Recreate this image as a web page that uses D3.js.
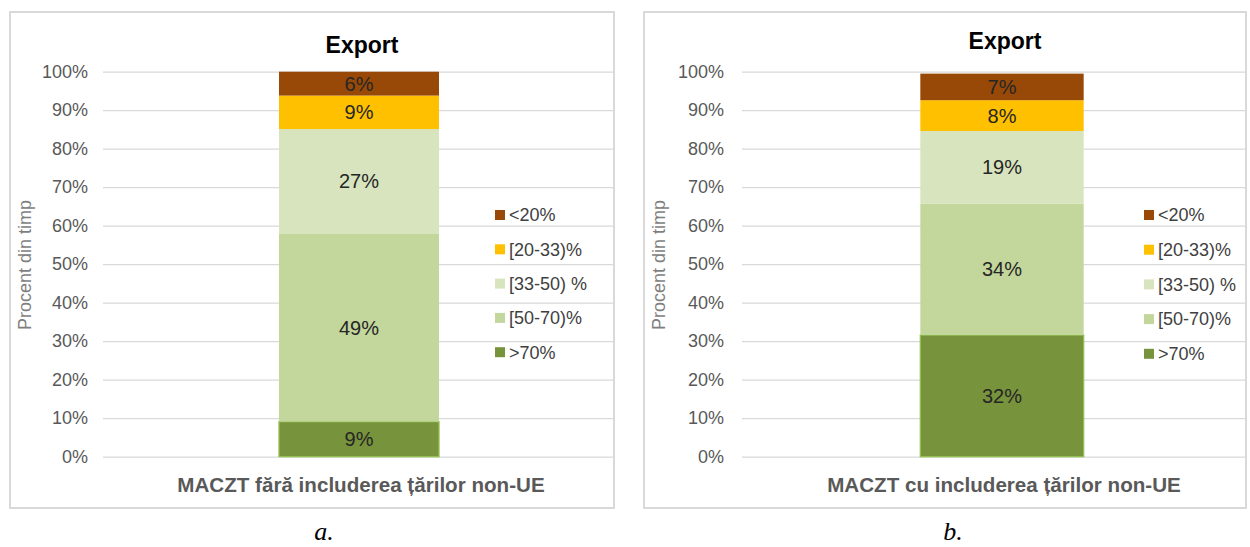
<!DOCTYPE html>
<html>
<head>
<meta charset="utf-8">
<script src="https://cdn.jsdelivr.net/npm/d3@7"></script>
<style>
  body { margin: 0; background: #fff; }
  svg { display: block; font-family: "Liberation Sans", Arial, sans-serif; }
</style>
</head>
<body>
<svg id="chart" width="1250" height="547"></svg>
<script>
// series, bottom of the stack first
var seriesNames = [">70%", "[50-70)%", "[33-50) %", "[20-33)%", "<20%"];
var seriesColors = ["#77933C", "#C3D69B", "#D7E4BD", "#FFC000", "#984807"];
var categories = ["MACZT fără includerea țărilor non-UE", "MACZT cu includerea țărilor non-UE"];
var valuesA = [9.1, 48.9, 27.1, 8.7, 6.2];
var valuesB = [31.6, 34.1, 18.9, 8.0, 6.9];
var yTicks = [0, 10, 20, 30, 40, 50, 60, 70, 80, 90, 100];
var chartTitle = "Export";
var yTitle = "Procent din timp";
var captions = ["a.", "b."];

var svg = d3.select("#chart");

// layout of the two panels (pixels)
var panels = [
  { values: valuesA, category: categories[0], caption: captions[0],
    box: [10, 12, 614, 508], grid: [103, 613], band: [119, 599],
    tickX: 88, titleX: 25, legendX: 495, legendY: 215, legendStep: 34.3,
    headY: 53, captionX: 324 },
  { values: valuesB, category: categories[1], caption: captions[1],
    box: [644, 12, 1246, 508], grid: [742, 1245], band: [757, 1247],
    tickX: 724, titleX: 659, legendX: 1144, legendY: 215, legendStep: 34.7,
    headY: 49, captionX: 953 }
];

var y = d3.scaleLinear()
    .domain([0, 100])
    .range([456.7, 71.7]);

function chartSetup(p) {
  var g = svg.append("g");

  // panel frame
  g.append("rect")
      .attr("x", p.box[0]).attr("y", p.box[1])
      .attr("width", p.box[2] - p.box[0]).attr("height", p.box[3] - p.box[1])
      .attr("fill", "#fff").attr("stroke", "#d9d9d9").attr("stroke-width", 2);

  var x = d3.scaleBand()
      .domain([p.category])
      .range(p.band)
      .padding(0.5);

  // gridlines + tick labels
  var yAxis = d3.axisLeft(y).tickValues(yTicks).tickFormat(d => d + "%")
      .tickSize(-(p.grid[1] - p.grid[0])).tickPadding(15);
  var ax = g.append("g")
      .attr("transform", "translate(" + p.grid[0] + ",0)")
      .call(yAxis);
  ax.select(".domain").remove();
  ax.selectAll("line").attr("stroke", "#d9d9d9").attr("stroke-width", 1.2);
  ax.selectAll("text")
      .attr("x", p.tickX - p.grid[0])
      .attr("fill", "#595959")
      .style("font-size", "18px")
      .style("font-family", "'Liberation Sans', Arial, sans-serif");

  // stacked bar
  var row = {};
  seriesNames.forEach((s, i) => row[s] = p.values[i]);
  var stacked = d3.stack().keys(seriesNames)([row]);

  var seg = g.selectAll(".seg")
      .data(stacked)
    .enter().append("g").attr("class", "seg");

  seg.append("rect")
      .attr("x", x(p.category))
      .attr("width", x.bandwidth())
      .attr("y", d => y(d[0][1]))
      .attr("height", d => y(d[0][0]) - y(d[0][1]))
      .attr("fill", (d, i) => seriesColors[i])
      .attr("stroke", (d, i) => i == 0 ? "#92C050" : "none")
      .attr("stroke-width", 1.3);

  seg.append("text")
      .attr("x", x(p.category) + x.bandwidth() / 2)
      .attr("y", d => (y(d[0][0]) + y(d[0][1])) / 2)
      .attr("dy", "0.35em")
      .attr("text-anchor", "middle")
      .attr("fill", "#262626")
      .style("font-size", "20px")
      .text(d => Math.round(d[0][1] - d[0][0]) + "%");

  // title and category label
  g.append("text")
      .attr("x", x(p.category) + x.bandwidth() / 2 + 3)
      .attr("y", p.headY)
      .attr("text-anchor", "middle")
      .style("font-size", "23px").style("font-weight", "bold")
      .text(chartTitle);

  g.append("text")
      .attr("x", x(p.category) + x.bandwidth() / 2 + 2)
      .attr("y", 491.5)
      .attr("text-anchor", "middle")
      .attr("fill", "#595959")
      .style("font-size", "20.6px").style("font-weight", "bold")
      .text(p.category);

  g.append("text")
      .attr("transform", "translate(" + (p.titleX + 6) + ",265) rotate(-90)")
      .attr("text-anchor", "middle")
      .attr("fill", "#7f7f7f")
      .style("font-size", "18px")
      .text(yTitle);

  // legend, top entry is the last series
  var legendItems = seriesNames.slice().reverse();
  var leg = g.selectAll(".leg")
      .data(legendItems)
    .enter().append("g")
      .attr("transform", (d, i) => "translate(" + p.legendX + "," + (p.legendY + i * p.legendStep) + ")");
  leg.append("rect")
      .attr("x", 0).attr("y", -5).attr("width", 10).attr("height", 10)
      .attr("fill", d => seriesColors[seriesNames.indexOf(d)]);
  leg.append("text")
      .attr("x", 14).attr("dy", "0.35em")
      .attr("fill", "#404040")
      .style("font-size", "18px")
      .text(d => d);

  // caption under panel
  svg.append("text")
      .attr("x", p.captionX).attr("y", 540)
      .attr("text-anchor", "middle")
      .style("font-family", "'Liberation Serif', 'Times New Roman', serif")
      .style("font-style", "italic")
      .style("font-size", "26px")
      .text(p.caption);
}

panels.forEach(chartSetup);
</script>
</body>
</html>
